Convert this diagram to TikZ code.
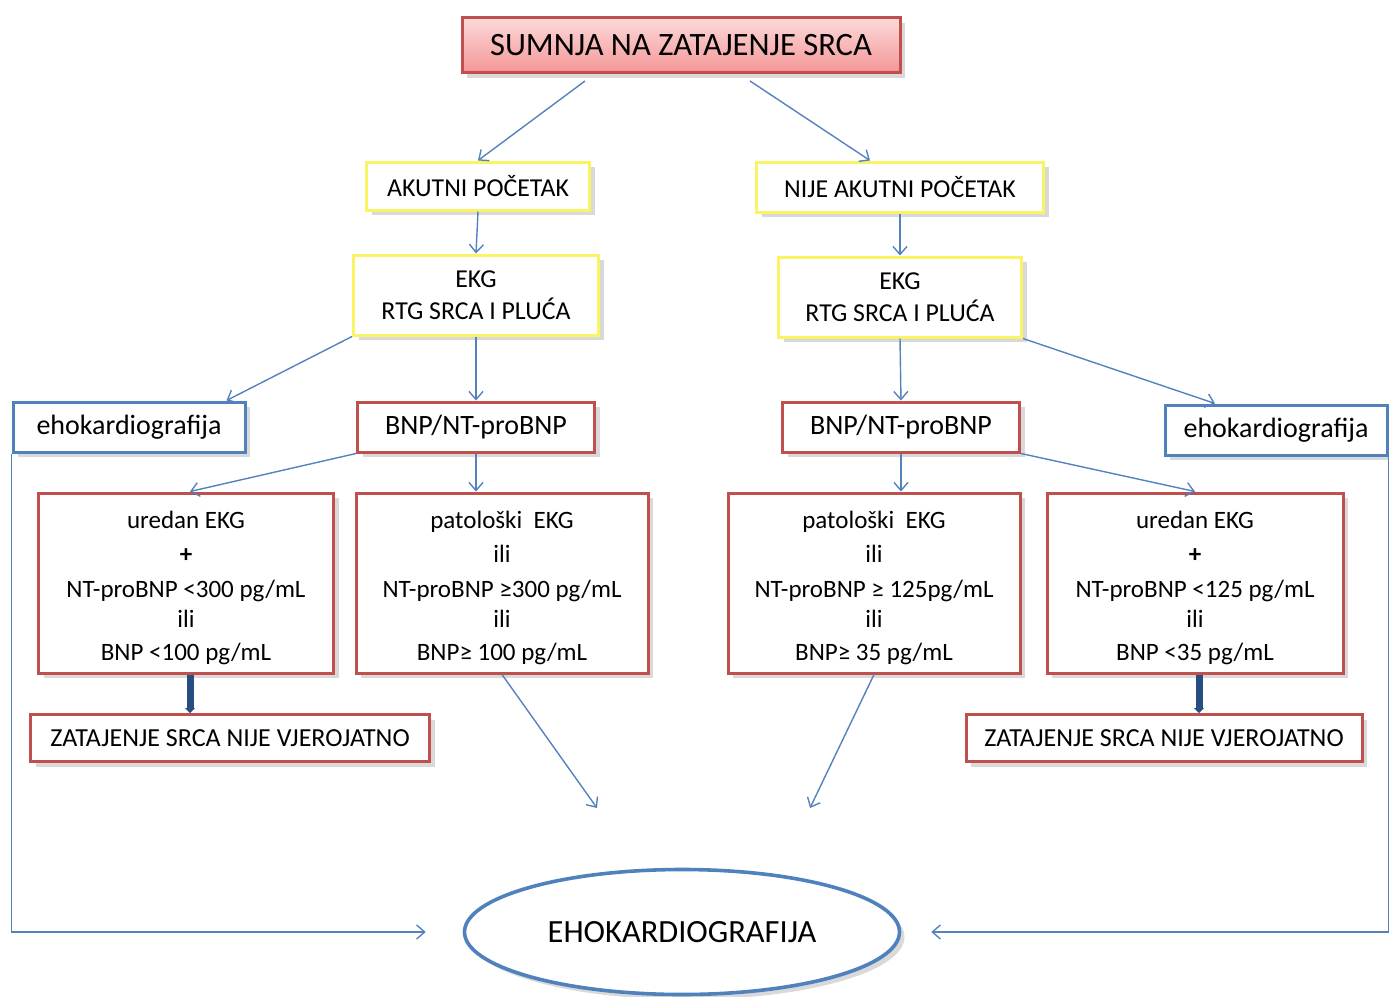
\documentclass[tikz,border=0pt]{standalone}
\usepackage{fontspec}
\setmainfont{Carlito}
\usetikzlibrary{shadows,shapes.geometric,arrows.meta}
\definecolor{boxred}{RGB}{192,80,77}
\definecolor{boxyellow}{RGB}{250,244,100}
\definecolor{boxblue}{RGB}{79,129,189}
\definecolor{arrowblue}{RGB}{84,130,190}
\definecolor{darkarrow}{RGB}{38,78,130}
\newcommand{\topstrut}{\rule{0pt}{13.5pt}}
\begin{document}
\begin{tikzpicture}[x=0.5pt, y=-0.5pt,
    shade/.style={drop shadow={opacity=0.3, shadow xshift=2.5pt, shadow yshift=-2.5pt}},
    redbox/.style={draw=boxred, line width=1.5pt, fill=white, inner sep=2pt, align=center, shade},
    yellowbox/.style={draw=boxyellow, line width=1.5pt, fill=white, inner sep=2pt, align=center, shade},
    bluebox/.style={draw=boxblue, line width=1.5pt, fill=white, inner sep=2pt, shade},
    arr/.style={draw=arrowblue, line width=0.7pt, -{Straight Barb[length=4pt,width=7pt]}},
    thickarr/.style={draw=darkarrow, line width=3.5pt, -{Triangle[length=2.5pt,width=5pt]}},
    bigtxt/.style={font=\fontsize{16.3}{19}\selectfont},
    midtxt/.style={font=\fontsize{12.9}{15}\selectfont},
    boxtxt/.style={font=\fontsize{14}{16}\selectfont},
    smalltxt/.style={font=\fontsize{12.5}{15}\selectfont}]
  \useasboundingbox (0,0) rectangle (1389,997);
  % Top
  \node[redbox, bigtxt, minimum width=219pt, minimum height=27.5pt,
        top color={rgb,255:red,252;green,218;blue,218}, bottom color={rgb,255:red,244;green,150;blue,150}]
        (suspect) at (681,45) {SUMNJA NA ZATAJENJE SRCA};
  % Onset
  \node[yellowbox, midtxt, minimum width=111.5pt, minimum height=24pt] (acute) at (478,186) {AKUTNI POČETAK};
  \node[yellowbox, midtxt, minimum width=143.5pt, minimum height=25pt] (chronic) at (900,187) {NIJE AKUTNI POČETAK};
  \node[yellowbox, midtxt, minimum width=122.5pt, minimum height=40pt] (ekgL) at (476,295) {EKG\\[1pt]RTG SRCA I PLUĆA};
  \node[yellowbox, midtxt, minimum width=121.5pt, minimum height=40pt] (ekgR) at (900,297) {EKG\\[1pt]RTG SRCA I PLUĆA};
  % Second row
  \node[bluebox, boxtxt, minimum width=116pt, minimum height=25pt] (echoL) at (129,427) {ehokardiografija};
  \node[redbox, boxtxt, minimum width=118.5pt, minimum height=25pt] (bnpL) at (476,427) {BNP/NT-proBNP};
  \node[redbox, boxtxt, minimum width=118.5pt, minimum height=25pt] (bnpR) at (901,427) {BNP/NT-proBNP};
  \node[bluebox, boxtxt, minimum width=111pt, minimum height=25pt] (echoR) at (1276,430) {ehokardiografija};
  % Values
  \node[redbox, smalltxt, minimum width=147.5pt, minimum height=90pt] (normL) at (186,583)
        {\topstrut uredan EKG\\[2pt] \textbf{+}\\[2.5pt] NT-proBNP <300 pg/mL\\ ili\\[1.5pt] BNP <100 pg/mL};
  \node[redbox, smalltxt, minimum width=146pt, minimum height=90pt] (pathL) at (502,583)
        {\topstrut patološki \ EKG\\[2pt] ili\\[2.5pt] NT-proBNP ≥300 pg/mL\\ ili\\[1.5pt] BNP≥ 100 pg/mL};
  \node[redbox, smalltxt, minimum width=146pt, minimum height=90pt] (pathR) at (874,583)
        {\topstrut patološki \ EKG\\[2pt] ili\\[2.5pt] NT-proBNP ≥ 125pg/mL\\ ili\\[1.5pt] BNP≥ 35 pg/mL};
  \node[redbox, smalltxt, minimum width=148pt, minimum height=90pt] (normR) at (1195,583)
        {\topstrut uredan EKG\\[2pt] \textbf{+}\\[2.5pt] NT-proBNP <125 pg/mL\\ ili\\[1.5pt] BNP <35 pg/mL};
  % Unlikely
  \node[redbox, font=\fontsize{13}{15}\selectfont, minimum width=199.5pt, minimum height=23.5pt] (unlikelyL) at (230,738) {ZATAJENJE SRCA NIJE VJEROJATNO};
  \node[redbox, font=\fontsize{13}{15}\selectfont, minimum width=198pt, minimum height=23.5pt] (unlikelyR) at (1164,738) {ZATAJENJE SRCA NIJE VJEROJATNO};
  % Echo
  \node[ellipse, draw=boxblue, line width=1.8pt, fill=white, shade, font=\fontsize{16.2}{18}\selectfont,
        minimum width=217.5pt, minimum height=62.5pt] (echo) at (682,932) {EHOKARDIOGRAFIJA};
  \coordinate (freeL) at (597,808);
  \coordinate (freeR) at (810,808);
  % Arrows
  \draw[arr] ([xshift=-48pt,yshift=-3.5pt]suspect.south) -- (acute.north);
  \draw[arr] ([xshift=34.5pt,yshift=-3.5pt]suspect.south) -- ([xshift=-15pt]chronic.north);
  \draw[arr] (acute.south) -- (ekgL.north);
  \draw[arr] (chronic.south) -- (ekgR.north);
  \draw[arr] (ekgL.south west) -- ([xshift=-10pt]echoL.north east);
  \draw[arr] (ekgL.south) -- (bnpL.north);
  \draw[arr] (ekgR.south) -- (bnpR.north);
  \draw[arr] (ekgR.south east) -- ([xshift=-30.5pt]echoR.north);
  \draw[arr] (bnpL.south west) -- ([xshift=2pt]normL.north);
  \draw[arr] (bnpL.south) -- (bnpL.south |- pathL.north);
  \draw[arr] (bnpR.south) -- (bnpR.south |- pathR.north);
  \draw[arr] (bnpR.south east) -- (normR.north);
  \draw[thickarr] ([xshift=2pt]normL.south) -- ([xshift=2pt]normL.south |- unlikelyL.north);
  \draw[thickarr] ([xshift=2pt]normR.south) -- ([xshift=2pt]normR.south |- unlikelyR.north);
  \draw[arr] (pathL.south) -- (freeL);
  \draw[arr] (pathR.south) -- (freeR);
  \draw[arr, shorten >=18.5pt] (echoL.south west) |- (echo.west);
  \draw[arr, shorten >=15pt] (echoR.south east) |- (echo.east);
\end{tikzpicture}
\end{document}
